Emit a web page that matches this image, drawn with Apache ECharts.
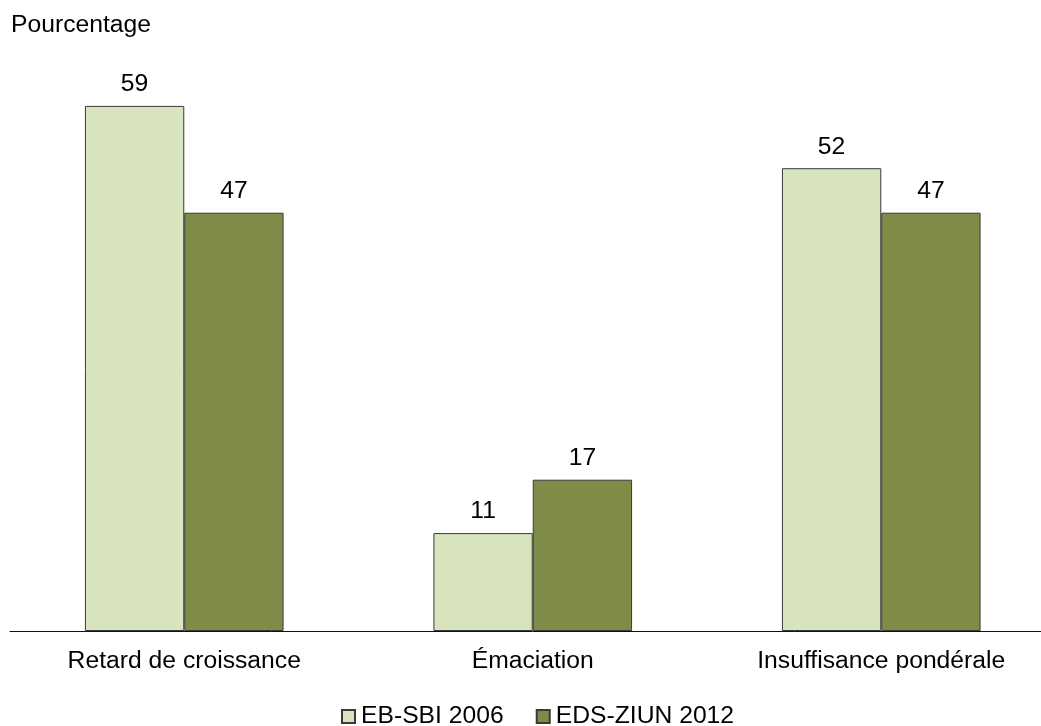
<!DOCTYPE html>
<html>
<head>
<meta charset="utf-8">
<style>
  html, body { margin: 0; padding: 0; background: #ffffff; overflow: hidden; width: 1041px; height: 726px; }
  /* the last category band runs a little past the right edge of the page */
  #chart { width: 1056px; height: 726px; }
</style>
<script src="https://cdn.jsdelivr.net/npm/echarts@6/dist/echarts.min.js"></script>
</head>
<body>
<div id="chart"></div>
<script>
// Indicateurs nutritionnels des enfants, par enquête
const categories = ['Retard de croissance', 'Émaciation', 'Insuffisance pondérale'];
const seriesNames = ['EB-SBI 2006', 'EDS-ZIUN 2012'];
const values2006 = [59, 11, 52];
const values2012 = [47, 17, 47];
const seriesColors = ['#d7e4bd', '#7f8c48'];

const FONT = '"Liberation Sans", Arial, sans-serif';
const FS = 24.7;

const chart = echarts.init(document.getElementById('chart'), null, { renderer: 'canvas' });

function barSeries(name, data, color) {
  return {
    name: name,
    type: 'bar',
    data: data,
    barGap: '0%',
    barCategoryGap: '43%',
    itemStyle: { color: color, borderColor: '#3a3a3a', borderWidth: 1 },
    label: {
      show: true,
      position: 'top',
      distance: 9,
      color: '#000',
      fontFamily: FONT,
      fontSize: FS
    },
    emphasis: { disabled: true }
  };
}

chart.setOption({
  animation: false,
  backgroundColor: '#ffffff',
  title: {
    text: 'Pourcentage',
    left: 11,
    top: 13,
    padding: 0,
    textStyle: { fontFamily: FONT, fontSize: FS, fontWeight: 'normal', color: '#000' }
  },
  legend: {
    data: seriesNames,
    left: 341,
    top: 704,
    padding: 0,
    icon: 'rect',
    itemWidth: 13,
    itemHeight: 13,
    itemGap: 32,
    textStyle: { fontFamily: FONT, fontSize: FS, color: '#000', padding: [0, 0, 0, 1] }
  },
  grid: { left: 10, top: 97, width: 1045.5, height: 534, containLabel: false },
  xAxis: {
    type: 'category',
    data: categories,
    axisLine: { show: true, lineStyle: { color: '#111', width: 1 } },
    axisTick: { show: false },
    axisLabel: { color: '#000', fontFamily: FONT, fontSize: FS, margin: 18, interval: 0 }
  },
  yAxis: {
    type: 'value',
    min: 0,
    max: 60,
    show: false
  },
  series: [
    barSeries(seriesNames[0], values2006, seriesColors[0]),
    barSeries(seriesNames[1], values2012, seriesColors[1])
  ]
});
</script>
</body>
</html>
